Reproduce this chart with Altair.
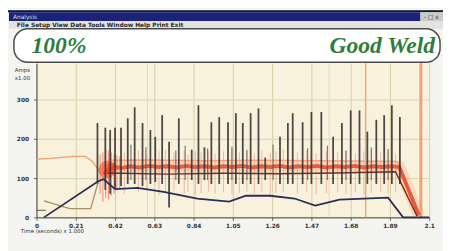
import altair as alt
import pandas as pd

# ---------------- data ----------------
x_ticks = [0, 0.21, 0.42, 0.63, 0.84, 1.05, 1.26, 1.47, 1.68, 1.89, 2.1]
y_ticks = [0, 100, 200, 300]

# pre-weld thin orange trace
pre_t = [0.0, 0.08, 0.20, 0.26, 0.30, 0.33, 0.35, 0.37]
pre_v = [148, 150, 155, 155, 142, 122, 102, 100]

# main red (current) trace
red_t = [0.36, 0.38, 0.40, 0.42, 0.46, 0.50, 0.55, 0.60, 0.65, 0.70, 0.75, 0.80,
         0.85, 0.90, 0.95, 1.00, 1.05, 1.10, 1.15, 1.20, 1.25, 1.30, 1.35, 1.40,
         1.45, 1.50, 1.55, 1.60, 1.65, 1.70, 1.75, 1.80, 1.85, 1.90, 1.94, 2.045]
red_v = [110, 118, 125, 128, 126, 130, 127, 131, 128, 130, 127, 131,
         128, 130, 127, 130, 128, 131, 127, 130, 128, 131, 127, 130,
         128, 131, 127, 130, 128, 131, 127, 130, 128, 130, 128, 5]

# light orange upper envelope
upper_t = [0.40, 0.60, 0.90, 1.20, 1.50, 1.80, 1.93, 2.04]
upper_v = [145, 146, 144, 145, 144, 143, 142, 8]

# dark red trace
dred_t = [0.38, 0.45, 0.70, 1.00, 1.30, 1.60, 1.92, 2.035]
dred_v = [112, 112, 110, 112, 111, 113, 116, 3]

# navy trace
navy_t = [0.04, 0.33, 0.36, 0.42, 0.54, 0.68, 0.86, 1.03, 1.12, 1.25, 1.38,
          1.49, 1.62, 1.88, 1.96, 2.10]
navy_v = [0, 92, 97, 72, 75, 65, 48, 40, 55, 55, 48, 30, 45, 50, 0, 0]

# tan trace (start)
tan_t = [0.04, 0.15, 0.18, 0.29, 0.33, 0.36]
tan_v = [42, 26, 22, 22, 90, 100]

# gray short trace
gray_t = [0.0, 0.05]
gray_v = [18, 18]

# dark voltage spikes
spike_t = [0.326, 0.368, 0.394, 0.42, 0.452, 0.488, 0.525, 0.567, 0.609, 0.635,
           0.672, 0.709, 0.761, 0.83, 0.866, 0.898, 0.935, 0.977, 1.024, 1.066,
           1.103, 1.145, 1.187, 1.223, 1.302, 1.344, 1.37, 1.423, 1.47, 1.523,
           1.586, 1.633, 1.68, 1.727, 1.769, 1.817, 1.859, 1.90, 1.943]
spike_top = [240, 228, 222, 228, 228, 252, 280, 240, 222, 205,
             260, 192, 252, 172, 285, 178, 242, 255, 242, 265,
             240, 265, 277, 152, 205, 240, 265, 242, 268, 268,
             205, 240, 272, 272, 218, 248, 260, 285, 255]
spike_bot = [85, 70, 60, 75, 80, 85, 85, 80, 85, 90,
             85, 25, 85, 95, 85, 95, 85, 85, 85, 85,
             85, 85, 85, 95, 85, 85, 85, 85, 85, 85,
             85, 85, 85, 85, 85, 85, 85, 85, 85]

# short dark spikes in between
short_t = [0.505, 0.585, 0.745, 0.795, 0.915, 1.045, 1.125, 1.265, 1.45, 1.555,
           1.655, 1.79, 1.88]
short_top = [185, 178, 170, 182, 175, 180, 172, 185, 176, 182, 170, 178, 174]
short_bot = [95, 95, 95, 95, 95, 95, 95, 95, 95, 95, 95, 95, 95]

# faint reddish spikes
ghost_t = [0.47, 0.545, 0.59, 0.655, 0.69, 0.735, 0.79, 0.81, 0.85, 0.88, 0.92,
           0.955, 1.0, 1.045, 1.085, 1.125, 1.165, 1.205, 1.25, 1.28, 1.32,
           1.395, 1.445, 1.495, 1.55, 1.61, 1.655, 1.705, 1.75, 1.79, 1.84,
           1.88, 1.92]
ghost_top = [165, 170, 160, 168, 172, 165, 170, 160, 168, 165, 170,
             162, 168, 172, 165, 168, 162, 170, 165, 168, 172,
             165, 170, 162, 168, 165, 170, 163, 168, 172, 165,
             168, 162]
ghost_bot = [60, 65, 70, 55, 62, 68, 60, 65, 58, 62, 66,
             60, 64, 58, 62, 66, 60, 64, 58, 62, 66,
             60, 64, 58, 62, 66, 60, 64, 58, 62, 66,
             60, 64]

# red noise at arc start
noise_t = [0.34, 0.355, 0.37, 0.385, 0.40, 0.415, 0.43, 0.445]
noise_top = [160, 165, 175, 170, 165, 160, 158, 155]
noise_bot = [60, 40, 50, 45, 55, 60, 70, 75]

# marker lines
mark_t = [0.593, 1.565, 1.76, 2.055]
mark_c = ["#f1cfc4", "#f1cfc4", "#deb07e", "#f0a07c"]
mark_w = [1, 1, 1.5, 3]

# ---------------- frames ----------------
def line_df(t, v):
    return pd.DataFrame({"t": t, "v": v, "i": list(range(len(t)))})

def rule_df(t, lo, hi):
    return pd.DataFrame({"t": t, "v": lo, "v2": hi})

xs = alt.Scale(domain=[0, 2.1], nice=False, zero=False)
ys = alt.Scale(domain=[0, 392], nice=False, zero=False)

x_axis = alt.Axis(values=x_ticks, format=".2~f", labelFontSize=6, labelFontWeight="bold",
                  labelColor="#333333", labelPadding=2, tickSize=3, tickColor="#666666",
                  domainColor="#444444", gridColor="#d9cca6", grid=True, title=None,
                  labelFlush=False, labelFont="DejaVu Sans")
y_axis = alt.Axis(values=y_ticks, labelFontSize=6, labelFontWeight="bold",
                  labelColor="#333333", labelPadding=5, tickSize=3, tickColor="#666666",
                  domainColor="#444444", gridColor="#ddd2b0", grid=True, title=None,
                  labelFont="DejaVu Sans")

X = alt.X("t:Q", scale=xs, axis=x_axis)
Y = alt.Y("v:Q", scale=ys, axis=y_axis)
Y2 = alt.Y2("v2:Q")


def line(t, v, color, w, op=1.0):
    return alt.Chart(line_df(t, v)).mark_line(color=color, strokeWidth=w, opacity=op).encode(
        x=X, y=Y, order="i:Q")


def rules(t, lo, hi, color, w, op=1.0):
    return alt.Chart(rule_df(t, lo, hi)).mark_rule(color=color, strokeWidth=w, opacity=op).encode(
        x=X, y=Y, y2=Y2)


markers = alt.Chart(pd.DataFrame({"t": mark_t, "v": [0] * 4, "v2": [392] * 4,
                                  "c": mark_c, "w": mark_w})).mark_rule().encode(
    x=X, y=Y, y2=Y2, color=alt.Color("c:N", scale=None),
    strokeWidth=alt.StrokeWidth("w:Q", scale=None))

blob = alt.Chart(pd.DataFrame({"t": [0.38, 0.40], "v": [122, 126], "s": [320, 110]})).mark_circle(
    color="#ff3a22", opacity=0.55).encode(x=X, y=Y, size=alt.Size("s:Q", scale=None))

one = pd.DataFrame({"k": [0]})


def box(x1, x2, y1, y2, fill, **kw):
    return alt.Chart(one).mark_rect(fill=fill, **kw).encode(
        x=alt.value(x1), x2=alt.value(x2), y=alt.value(y1), y2=alt.value(y2))


def label(x, y, s, **kw):
    return alt.Chart(one).mark_text(**kw).encode(x=alt.value(x), y=alt.value(y), text=alt.value(s))


chrome = [
    box(-29, 414, -54, -52, "#0c1236"),
    box(-28, 391, -52, -43, "#1b2378"),
    box(391, 414, -52, -43, "#c9c9c6"),
    label(-24, -47, "Analysis", fontSize=6, color="#d8dcf0", align="left", baseline="middle",
          font="DejaVu Sans"),
    label(402, -47, "- □ x", fontSize=6, color="#333333", align="center", baseline="middle",
          font="DejaVu Sans"),
    box(-28, 414, -43, -35, "#e2e2df"),
    label(-20, -38.5, "File  Setup  View  Data  Tools  Window  Help  Print  Exit",
          fontSize=6, fontWeight="bold", color="#2a2a2a", align="left", baseline="middle",
          font="DejaVu Sans"),
    box(-23, 411, -35, -1, "#ffffff", cornerRadius=14, stroke="#4a4a4a", strokeWidth=1.5),
    label(-5, -10, "100%", fontSize=24, fontStyle="italic", fontWeight="bold",
          font="Liberation Serif", color="#2f7d3c", align="left", baseline="alphabetic"),
    label(406, -10, "Good Weld", fontSize=24, fontStyle="italic", fontWeight="bold",
          font="Liberation Serif", color="#2f7d3c", align="right", baseline="alphabetic"),
    label(-22, 7, "Amps", fontSize=5.5, color="#333333", align="left", baseline="middle",
          font="DejaVu Sans"),
    label(-22, 15, "x1.00", fontSize=5.5, color="#333333", align="left", baseline="middle",
          font="DejaVu Sans"),
    label(-16, 171, "Time (seconds) x 1.000", fontSize=5.5, color="#333333", align="left",
          baseline="middle", font="DejaVu Sans"),
]

layers = [
    markers,
    rules(ghost_t, ghost_bot, ghost_top, "#e9a088", 1, 0.7),
    line(red_t, red_v, "#f3a07c", 12, 0.3),
    line(upper_t, upper_v, "#f2a27e", 1.5),
    line(pre_t, pre_v, "#f0a070", 1.3),
    rules(noise_t, noise_bot, noise_top, "#f05a3a", 1.2, 0.6),
    line(red_t, red_v, "#e8482a", 4, 0.85),
    blob,
    line(dred_t, dred_v, "#7e2a1e", 1.5),
    rules(short_t, short_bot, short_top, "#4a4040", 1.0, 0.8),
    rules(spike_t, spike_bot, spike_top, "#3a3434", 1.8, 0.9),
    line(gray_t, gray_v, "#6a6a70", 1.2),
    line(tan_t, tan_v, "#a89060", 1.3),
    line(navy_t, navy_v, "#2c2c58", 1.8),
] + chrome

chart = alt.layer(*layers).properties(
    width=400, height=157,
    autosize=alt.AutoSizeParams(type="none"),
    padding={"left": 29, "top": 54, "right": 14, "bottom": 32},
    background="#f4f4f1",
).configure_view(fill="#f8f1dc", stroke=None)

chart.save("out.html", embed_options={"renderer": "svg", "actions": False})
